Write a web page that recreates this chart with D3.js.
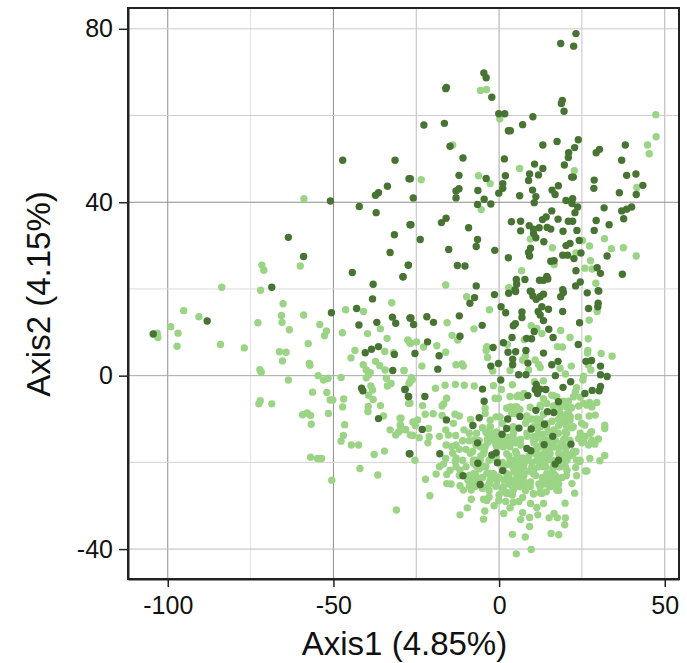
<!DOCTYPE html>
<html>
<head>
<meta charset="utf-8">
<script src="https://cdn.jsdelivr.net/npm/d3@7"></script>
<style>
body { margin: 0; background: #fff; }
text { font-family: "Liberation Sans", Arial, sans-serif; fill: #111; }
</style>
</head>
<body>
<div id="chart"></div>
<script>
// values, [axis1, axis2]
var xTicks = [-100, -50, 0, 50];
var yTicks = [-40, 0, 40, 80];
var xGrid = [-100, -75, -50, -25, 0, 25, 50];
var yGrid = [-40, -20, 0, 20, 40, 60, 80];
var xGridColors = ["#8e8e8e", "#e2e2e2", "#8e8e8e", "#bdbdbd", "#a6a6a6", "#c6c6c6", "#b4b4b4"];
var yGridColors = ["#bdbdbd", "#d2d2d2", "#a8a8a8", "#dcdcdc", "#8e8e8e", "#cfcfcf", "#cacaca"];

var darkPoints = [
[-47.2,49.7],[-31.4,49.7],[-27.2,45.4],[-33.7,43.7],[-36.4,42.2],[-37.3,41.6],[-50.9,40.3],[-42.2,39],[-37.1,37.6],[-26.9,34.8],
[-31.6,32.5],[-63.6,31.9],[-32.9,28.4],[-59,27.5],[-27.4,25.5],[-44.3,23.8],[-29,22.8],[-38,21.1],[-68.6,20.4],
[23.2,78.9],[18.6,76.6],[22.5,76],[-4.6,69.8],[-3.9,68.7],[-15.9,66.5],[-16.1,66.2],[-2.2,64.2],[19.1,63.5],[18.8,62.8],[19.6,61],
[-0.1,60.4],[1.7,60.4],[10.2,59.7],[7.1,57.9],[-16.5,58.2],[-22.7,57.8],[2.8,56.5],[3.4,56.5],[23.9,54.4],[17.5,54],
[13.2,53.2],[22.8,52.6],[38.1,53.2],[-14.8,52.9],[30.3,52.2],[29.3,51.4],[21,51.4],[20.9,50.3],[-10.9,50.2],[1.6,50],
[37,49.7],[10.7,48.8],[19.7,48.6],[13.2,47.8],[-12.1,46.2],[1.9,46.1],[9.2,46.5],[11.9,46.3],[21.9,45.8],[22.4,45.8],
[38.5,46.2],[41.3,46.5],[-26.8,45.4],[-3.9,45.5],[8.9,45],[28.7,45.1],[1.1,44.3],[43.4,43.9],[17.9,43.8],[28.6,43.2],
[-12.1,43.1],[-13,42.6],[1.1,43.2],[-6.4,42.7],[10.1,42.8],[16,42.8],[16.9,41.8],[-0.1,42.1],[36.3,42.2],[41.4,41.8],
[6.2,41.5],[11.1,41.3],[-25.9,41],[-13,41],[-4.5,40.7],[22.2,40.8],[20.2,40.4],[10.6,39.9],[-2.5,39.6],[-6.5,39.5],
[22,39.7],[23.7,38.9],[40,38.9],[38.5,38.4],[37,38],[31.7,38.7],[15.9,38],[22.9,37.6],[14.2,36.6],[13.1,36],
[-16,36.3],[-17.4,35.3],[37.6,36.2],[17.8,36.1],[3.7,35.5],[6.5,35.6],[20.9,35.6],[22.2,35.6],[29.3,35.8],[-26.6,34.8],
[33.2,34.8],[6.5,33.4],[9.1,34.6],[12.1,34.1],[14.5,34.2],[15.6,33.8],[10.4,33.8],[-9.2,34.1],[28.7,33.5],[19.3,33.3],
[23.5,33.5],[10.4,32.8],[11.1,31.8],[-6.5,31.4],[-23.8,31.4],[13.5,30.9],[24.2,31.2],[-6.9,29.8],[21.4,30.5],[20.2,30],
[9.5,29.4],[-15.2,29.1],[-1.3,28.9],[8.9,28.4],[24.7,28.3],[19.2,27.8],[20.7,27.8],[9.2,27.6],[2.8,27.2],[32.6,27.6],
[22.6,27],[16.6,26.5],[15.6,26.4],[-27.4,25.5],[-12.6,25.4],[-10.3,25.3],[29.6,24.9],[23.2,24.2],[30.6,23.6],[37.2,23.4],
[-29,22.8],[14.4,22.9],[7.8,22.2],[5.2,22.2],[12.2,22],[13.4,22],[14.7,22.3],[24.5,21.6],[5.3,21.1],[-6.9,20.7],
[23.1,20.7],[19.2,19.8],[4.8,19.8],[9.4,19.5],[29.9,19.6],
[-104.4,9.6],[-88.1,12.6],[-50.6,14.5],[-38.2,17.7],[-43,15.5],[-32.2,13.5],[-26.9,13.3],[-36.9,12.3],[-31.2,12.1],[-42.3,11.7],
[-36.4,6.7],[-38.5,6.1],[-40.4,5.3],[-31.6,4.9],[-32.1,1.2],[-41.5,-2.9],[-41.1,-3.5],[-28.4,-3.2],[-27.4,-4.8],[-36.4,-9.9],[-27.1,-18],
[-1.4,18.7],[2.9,19],[5,19.4],[9.7,19.4],[10.2,18.4],[13.4,18.8],[11.2,17.6],[12.4,18.2],[19.4,19.2],[18.6,18.2],
[26.6,19.1],[30.1,19.5],[29.9,16.7],[29.8,15.9],[27,15.5],[-7.4,18],[-8.8,16.7],[0.6,15.9],[2,14.5],[6.9,14.7],
[6.9,13.4],[11.8,14.8],[12.9,15.9],[14.9,15.3],[19.2,14.8],[12.4,14],[13.4,12.7],[24.3,12.2],[-26.6,13.3],[-21.8,13.6],
[-25.8,11.8],[-19.8,12.3],[-12,13.8],[-5.1,11.6],[4.9,12],[4.3,11.5],[10.6,10.2],[15,10.7],[-11.8,9.1],[3.9,8.8],
[8.3,8.6],[9.8,8.5],[16.3,8.8],[-21.6,7.8],[1.3,7.6],[23.9,7.2],[-1.8,6.5],[8.1,5.8],[2.7,5.4],[5,5.5],
[13.4,5.2],[-25.4,5.1],[-18.1,4.6],[4.1,3.8],[26.2,3.3],[27.9,3.5],[17.8,3.3],[-0.2,2.8],[8.7,2.9],[15.9,2.5],
[-2.5,2.2],[4.1,2.5],[30.6,2.2],[-18.5,1.5],[5.9,0.2],[8.1,0.2],[17,0],[30.6,0.2],[32.6,-0.2],[0.5,-1],
[21.6,-1.4],[11.2,-2],[19.3,-2.7],[30.6,-2.5],[-5,-3.1],[-28.4,-3.2],[10.9,-3.2],[12.4,-3.1],[14.1,-3.2],[11.6,-4.1],
[28.1,-3.4],[30.2,-3.5],[25.9,-4.1],[-27.3,-4.8],[-22.4,-4.8],[8.7,-4.6],[-4.5,-5.9],[17.9,-6],[11.1,-8],[14.6,-8.3],
[16.5,-8.5],[-6,-9.7],[2.6,-10],[6.3,-9.4],[-15.9,-10.2],[-7.9,-11.5],[13.7,-11.2],[-23.2,-12.4],[6,-12.1],[9.7,-12.3],
[2.3,-12.2],[0.9,-13.5],[16.2,-14],[-6.5,-15.5],[13.6,-15.9],[21.7,-15.8],[8.4,-16.8],[9.6,-17.3],[-26.9,-18],[-17.9,-18],
[-0.9,-17.8],[-2.2,-18.3],[-0.5,-20.1],[-6.4,-20.2],[17.9,-19.5],[16.9,-20.4],[1.1,-21.9],[-10.9,-23.1],[-5.7,-25.1]
];

var lightPoints = [
[-58.9,40.8],[-71.6,25.5],[-71,24.3],[-60,25.3],[-83.7,20.4],[-72,19.7],
[47.3,60.2],[47.4,55.1],[44.8,53.2],[45.3,51.2],[-3.8,66],[-5.6,65.8],[0.2,59.2],[-14,53.2],[6.2,47.8],[22.7,47.3],
[-23.5,45.2],[-6.2,46.1],[-2.7,44.3],[41.6,43.4],[-5.4,38.3],[9.4,31.5],[31.8,31.6],[25.2,31.2],[16.1,29.5],[27.3,29.9],
[33.9,29.3],[37.5,29.5],[41.4,27.6],[23.2,28.3],[27.6,26.5],[16.6,25.6],[25.9,24.8],[28.1,24.6],[6.8,24.2],[-16.1,20.9],
[29.2,21.3],[2.9,20.3],
[-103.2,9.8],[-103,8.8],[-99.1,11.3],[-96.9,9.8],[-97.2,6.8],[-95.2,15],[-90.6,13.6],[-84.1,7.2],[-76.9,6.4],[-72.8,12.2],
[-65.2,16.6],[-65.7,13.9],[-65.5,12.3],[-63.3,10.6],[-59,14],[-54.1,11.8],[-52.1,10.3],[-52.7,9.2],[-47.3,9.9],[-46.3,15.2],
[-40.9,14.8],[-32.4,16.8],[-39.7,9.7],[-35.8,10.8],[-33.8,8.6],[-27.5,8.2],[-26.9,7.5],[-57.6,7.4],[-66.3,5.5],[-64.3,5.4],
[-65.4,3.4],[-57.3,2.8],[-57.1,2.4],[-72.2,1.4],[-71.8,0.8],[-63.6,-1],[-54.6,0],[-53,-1],[-51.6,-0.6],[-47.7,-0.4],
[-43.5,5.8],[-44.7,4.1],[-41,2.5],[-34.5,5.6],[-31.8,5.3],[-37.3,3.3],[-36,2.3],[-34.4,1.3],[-28.7,1.2],[-40.1,1.3],
[-38.9,0.7],[-39.4,0.2],[-40.1,-0.5],[-34,-0.6],[-32.6,-1.8],[-33.7,-2.4],[-26.9,-1.4],[-38.7,-2.4],[-38.2,-3.3],[-39.4,-4.5],
[-38,-5.5],[-35.8,-6.9],[-56.3,-3.8],[-52,-3.9],[-51,-5.6],[-50.2,-5.6],[-46.9,-5.4],[-47.2,-7.2],[-72.1,-5.8],[-72.5,-6.5],
[-68.6,-6.5],[-39.5,-7.1],[-39.6,-8.3],[-34.9,-9.3],[-51.5,-8.7],[-59.3,-9],[-57.9,-8.6],[-56.9,-9.2],[-56.7,-11.2],[-46.6,-11.3],
[-47,-13.8],[-47.7,-15.1],[-44.6,-16],[-42.4,-16],[-29.9,-9.8],[-29.8,-11.3],[-32.9,-12.5],[-30.3,-13],[-31.2,-13.7],[-28.2,-12.4],
[-26.8,-13.7],[-27.3,-6.4],[-34.6,-17.4],[-37.7,-18.2],[-56.9,-18.8],[-54.8,-19.1],[-53.6,-19.1],[-42,-21.4],[-36.6,-22.9],[-50.5,-24.1],[-31,-31],
[-9.8,18.2],[-2.9,15.2],[-15.7,12.2],[-7.6,10.8],[-14.2,9.3],[-12.5,8.2],[-27.5,8.2],[-26.7,7.5],[-24.9,7.8],[-22.8,6.6],
[-18.8,6.9],[-16.1,5.4],[-23.3,2.2],[-28.7,1.2],[-13,2.5],[-11.2,2.7],[-10.8,2.2],[29.6,14.8],[27.2,12.8],[9.7,11.5],
[11.4,10.9],[12.9,9.7],[18.6,10.4],[21.4,8.8],[26.9,8.5],[7.6,8.3],[2.5,7.2],[-3.7,6.7],[-3.9,5.8],[-3.5,4.2],
[17.6,6.7],[19.1,6.6],[26.8,5.8],[26.7,5.2],[30.8,5.1],[34.1,4.5],[7.9,4.5],[7.1,3.6],[10.9,3.6],[11.9,2.6],
[12.4,1.9],[3.3,1.2],[21.8,2.2],[18.4,1.7],[20,0.4],[-1.9,1.1],[8.9,1.3],[26.9,2.5],[27.7,1.3],[25.5,-0.1],
[25.3,-1],[-26.5,-0.4],[-26.2,-0.9],[-27.2,-1.8],[-26.9,-6.3],[10.7,-1.4],[13.4,-1.2],[4,-2.1],[-1.7,-2.3],[-7.5,-2.4],
[-10.5,-2.2],[-13.2,-2],[-16.3,-2.2],[-19.2,-2.9],[0.7,-3.2],[-0.2,-5.2],[-1.2,-5.2],[3.3,-4.8],[5.4,-4.8],[7.5,-4.1],
[13.4,-5.3],[16.4,-4.6],[-15.8,-5.2],[-16.7,-6.5],[-17.2,-7],[-23.1,-6.9],[-22.3,-8.9],[-19.9,-8.8],[-17.2,-9.2],[-13.3,-8.9],
[-12,-9.3],[-26,-10.7],[-24.6,-10.2],[-29.6,-9.8],[-25.3,-11.5],[-28.4,-12.5],[-29.8,-11.5],[-29.6,-12.4],[-21.3,-12.2],[-21.1,-14.1],
[-26,-13.8],[-24.1,-14.3],[-21.5,-15.5],[-13.8,-11],[-16.1,-12.5],[-15.3,-13.7],[-13.1,-13.8],[-14.3,-16.4],[-14,-17.9],[-25.4,-19.5],
[-8.6,-10.1],[-4.2,-7.5],[-4.2,-8.7],[-0.9,-9.5],[-10.6,-12.5],[-9,-13.3],[-6.8,-13.3],[-2.7,-11.8],[-7.6,-14.8],
[5.2,-41.1],[9.7,-40.1],[4,-36.6],[7.9,-37.2],[15.7,-36.4],[18,-36.7],[9.2,-34.8],[19.8,-34.4],[20,-32.8],[6.5,-33.2],
[9.2,-32.7],[7.1,-31.6],[11.7,-32.1],[15.1,-32.8],[16.6,-31.8],[17.6,-32.8],[-4.7,-33.1],[-4.3,-31.2],[-11.8,-32.1],[-9.6,-30.5],
[1.4,-31.8],[3.3,-30.5],[4.3,-29.2],[-1.5,-30],[-0.1,-28.8],[-4.7,-28.5],[-3.7,-28.8],[-8.4,-28.5],[-20.9,-27.7],[-22.2,-23.9],
[-19,-22.7],[-15.8,-24.9],[-14.5,-25],[-11.8,-25.4],[-10.8,-26.4],[-15.8,-22.8],[-14.8,-21.8],[-16.8,-20.4],[-16.1,-19.1],[-13.2,-19.8],
[-11.8,-21.8],[-8.7,-17.9],[-7.7,-20.2],[-9.4,-24.1],[-7.7,-24.8],[-8.4,-26.4],[-3,-26.5],[19.9,-29.4],[22.8,-27.1],[22,-24.9],
[23.4,-23.1],[20.3,-23.1],[23.1,-21.2],[26,-22],[26.5,-22],[27.4,-19.1],[30.4,-19.6],[31.9,-18.4],[24.4,-19.8],[23.2,-17.5],
[31.9,-11.4],[31.9,-12.2],[30,-14.6],[28.9,-15.8],[27,-16],[27.9,-12.9],[29,-9.1],[27.2,-9.3],[29.5,-6.2],[28,-7.2],
[25.5,-6.4],[23.9,-9.5],[24.9,-11],[25.9,-11.4],[13.4,-29.5],[11.4,-30.4],[9.5,-29.5],[10.4,-27.3],[12.4,-27],[14.2,-26.8],
[17.4,-26.4],[7.1,-28.1],[4.3,-26.4],[1.6,-26.8],
[2.3,-7.5],[3.8,-7.3],[5.3,-7.2],[6.3,-7.8],[9.4,-7.3],[12.4,-6.8],[14.4,-6.4],[15.9,-4.5],[17.4,-4.9],[19.4,-5.9],
[20.9,-5.9],[22.4,-4.9],[23.4,-2.8],[21.9,-7.4],[20.4,-8.9],[18.4,-7.4],[16.4,-7],[13.4,-8.9],[11.4,-10],[9.9,-10],
[8.4,-9.3],[4.4,-8.7],[4.9,-8],[0.3,-9.5],[23,-3.8],[24.5,-5],[26.5,-6.8],[27.3,-6.2],[24,-7],[7,-5],[5.8,-4.5],
[-0.8,-13],[-2.8,-13.7],[-3.5,-14.7],[-2.2,-14.7],[-0.5,-14.3],[1,-14.8],[2.5,-14.2],[4.5,-14.6],[6.5,-14.7],[8.5,-14],
[10.5,-14],[12,-13.5],[13.5,-13.5],[15,-13],[16.5,-12.5],[18,-11.5],[19.8,-11],[20,-13],[19.8,-14.5],[11,-12],
[12.5,-11.5],[14.5,-11],[16,-10.5],[18,-10],[20,-10],[21.5,-9.5],[1,-11],[4,-12],[8,-11],[11,-14.5],
[13,-15],[15,-15],[17,-15],[19,-15.5],[-5,-12],[-4,-13],[-6,-15],[22,-12],[24,-14.5],[26,-14],[25,-15.5],[-9,-15],[-7,-16],
[-3.5,-15.5],[-1,-15.8],[0.5,-16],[2,-16],[3.5,-15.5],[5,-15.5],[6.5,-16],[10.5,-15.5],[12,-16.5],[14,-17],
[16,-16.5],[18,-16.8],[20,-16.5],[20,-17.8],[18,-18],[15,-18],[13,-18.5],[11,-18],[9,-18.5],[7,-19],
[5,-17.5],[4.5,-19.5],[3,-18.5],[-1,-19],[-3,-19.5],[-4.5,-17.5],[-5.5,-18.5],[-8,-17.5],[-7,-19.5],[-11,-19.5],
[-13,-19],[19,-19],[20.5,-19.5],[16,-19.5],[13,-20],[10,-20],[7.5,-20.5],[5.5,-20.5],[3,-20.5],[1,-20],[21.5,-18.5],[22.5,-17.5],
[-6,-21.5],[-4,-21],[-3,-22.5],[-1.5,-23],[0,-23.5],[1.5,-24],[3,-23],[4.5,-22],[5.5,-21.5],[6.5,-22.5],
[7.5,-23],[5,-24],[6,-25],[7.5,-25],[4,-25.5],[3,-25],[5.5,-23.5],[9,-22],[10.5,-21.5],[12,-21],
[14,-21],[16,-21.5],[18,-21],[20,-21],[20.5,-21.8],[11,-23],[13,-23.5],[15,-23],[17,-23],[19,-23.5],
[9.5,-24.5],[12,-25],[14,-25],[16,-24.5],[18,-25],[-7,-23],[-9,-23],[-8,-24.5],[-7,-25.5],[-9,-25.5],
[-3,-25],[-1,-25.5],[1,-26],[2.5,-27],[4,-27.5],[18,-26.5],[8,-26.5],[-12,-23],[-13,-21],[-5,-23.5],
// second pass over the solid part of the cloud
[3.3,-7.2],[4.8,-7.2],[12.4,-7.2],[20.4,-7.2],[3.8,-8.7],[5.3,-8.7],[18.4,-8.7],[21,-8.7],
[-2.7,-10.3],[8.4,-10.3],[11.4,-10.3],[12.4,-10.3],[19.4,-10.3],[21.4,-10.3],
[-2.7,-11.8],[4.3,-11.8],[10.4,-11.8],[12.4,-11.8],[14.4,-11.8],[20.4,-11.8],[22.4,-11.8],
[-3.7,-13.3],[-1.7,-13.3],[4.3,-13.3],[8.4,-13.3],[11.9,-13.3],[15.4,-13.3],[17.9,-13.3],[20.4,-13.3],[24.5,-13.3],[27.5,-13.3],
[-2.7,-14.9],[0.3,-14.9],[2.3,-14.9],[4.3,-14.9],[6.3,-14.9],[10.4,-14.9],[14.4,-14.9],[16.4,-14.9],[19.4,-14.9],[21.4,-14.9],[25.5,-14.9],[28,-14.9],
[-5.7,-16.4],[-4.2,-16.4],[-0.7,-16.4],[1.3,-16.4],[3.3,-16.4],[11.4,-16.4],[14.4,-16.4],[16.4,-16.4],[18.4,-16.4],[20.4,-16.4],
[-4.7,-18],[2.3,-18],[5.3,-18],[11.4,-18],[13.4,-18],[15.4,-18],[20.4,-18],[22.4,-18],
[-7.7,-19.5],[-5.7,-19.5],[3.3,-19.5],[6.3,-19.5],[8.4,-19.5],[11.4,-19.5],[14.4,-19.5],[19.4,-19.5],[23.4,-19.5],[24.4,-19.5],
[-6.7,-21],[-4.7,-21],[1.3,-21],[4.3,-21],[7.3,-21],[9.9,-21],[13.4,-21],[16.4,-21],[18.4,-21],
[-7.7,-22.6],[-3.7,-22.6],[-1.7,-22.6],[2.3,-22.6],[5.3,-22.6],[7.3,-22.6],[10.4,-22.6],[14.4,-22.6],[16.4,-22.6],
[-8.7,-24.1],[-6.7,-24.1],[-2.7,-24.1],[-0.7,-24.1],[3.3,-24.1],[5.3,-24.1],[7.3,-24.1],[13.4,-24.1],[15.4,-24.1],[17.4,-24.1],
[-3.7,-25.6],[1.3,-25.6],[4.3,-25.6],[6.3,-25.6],[9.4,-25.6],[12.4,-25.6],[15.4,-25.6],[17.4,-25.6],
[2.3,-27.2],[10.4,-27.2],[12.9,-27.2],
[-10,-21],[-12,-17],[-10,-17],[-5,-26],[-11,-15],[-13,-16],[-16,-16],[-18,-14],[-18,-21],[-3,-28],[2,-29],[6,-29],[0,-27.5]
];

var w = 687, h = 663;
var margin = {top: 8, right: 8, bottom: 84, left: 128};

var x = d3.scaleLinear().domain([-112, 54.3]).range([margin.left, w - margin.right]);
var y = d3.scaleLinear().domain([-46.9, 84.8]).range([h - margin.bottom, margin.top]);

var svg = d3.select("#chart").append("svg")
	.attr("width", w)
	.attr("height", h);

// grid first, the greys differ line by line in the original
svg.append("g").selectAll("line")
	.data(xGrid)
	.enter()
	.append("line")
	.attr("x1", function(d){ return x(d); })
	.attr("x2", function(d){ return x(d); })
	.attr("y1", margin.top)
	.attr("y2", h - margin.bottom)
	.attr("stroke", function(d, i){ return xGridColors[i]; })
	.attr("stroke-width", 1);

svg.append("g").selectAll("line")
	.data(yGrid)
	.enter()
	.append("line")
	.attr("x1", margin.left)
	.attr("x2", w - margin.right)
	.attr("y1", function(d){ return y(d); })
	.attr("y2", function(d){ return y(d); })
	.attr("stroke", function(d, i){ return yGridColors[i]; })
	.attr("stroke-width", 1);

svg.append("g").selectAll("circle")
	.data(lightPoints)
	.enter()
	.append("circle")
	.attr("cx", function(d){ return x(d[0]); })
	.attr("cy", function(d){ return y(d[1]); })
	.attr("r", 3.7)
	.attr("fill", "#9bd485");

svg.append("g").selectAll("circle")
	.data(darkPoints)
	.enter()
	.append("circle")
	.attr("cx", function(d){ return x(d[0]); })
	.attr("cy", function(d){ return y(d[1]); })
	.attr("r", 3.7)
	.attr("fill", "#487433");

// frame
svg.append("rect")
	.attr("x", margin.left)
	.attr("y", margin.top)
	.attr("width", w - margin.left - margin.right)
	.attr("height", h - margin.top - margin.bottom)
	.attr("fill", "none")
	.attr("stroke", "#222")
	.attr("stroke-width", 2);

// plain hyphen on the negative labels, as in the original
var xAxis = svg.append("g")
	.attr("transform", "translate(0," + (h - margin.bottom) + ")")
	.call(d3.axisBottom(x).tickValues(xTicks).tickFormat(String).tickSize(8).tickSizeOuter(0).tickPadding(9));
var yAxis = svg.append("g")
	.attr("transform", "translate(" + margin.left + ",0)")
	.call(d3.axisLeft(y).tickValues(yTicks).tickFormat(String).tickSize(9).tickSizeOuter(0).tickPadding(6));

[xAxis, yAxis].forEach(function(a){
	a.select(".domain").attr("stroke", "#222").attr("stroke-width", 2);
	a.selectAll(".tick line").attr("stroke", "#222").attr("stroke-width", 1.5);
	a.selectAll(".tick text")
		.attr("font-size", "25px")
		.attr("font-family", '"Liberation Sans", Arial, sans-serif')
		.attr("fill", "#111");
});

svg.append("text")
	.text("Axis1 (4.85%)")
	.attr("x", 404.5)
	.attr("y", 655)
	.attr("text-anchor", "middle")
	.attr("font-size", "33px");

svg.append("text")
	.text("Axis2 (4.15%)")
	.attr("transform", "translate(50,294) rotate(-90)")
	.attr("text-anchor", "middle")
	.attr("font-size", "33px");
</script>
</body>
</html>
